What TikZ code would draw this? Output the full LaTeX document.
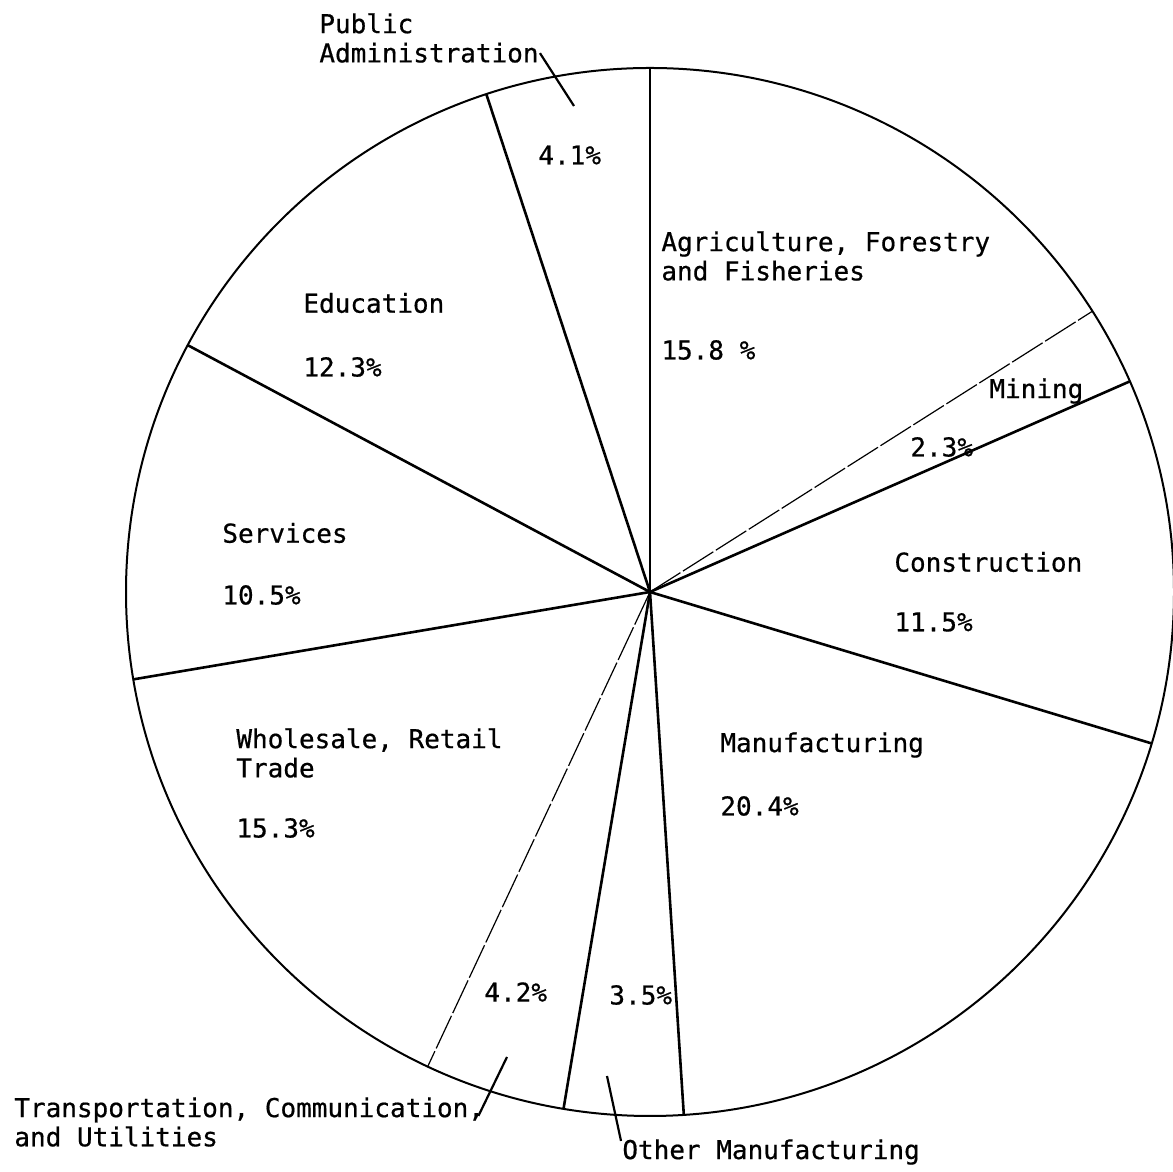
\documentclass[tikz,border=0pt]{standalone}
\usepackage{fontspec}
\usepackage{tikz}
\newfontfamily\typefont[FakeBold=0.6]{DejaVu Sans Mono}
\tikzset{>=stealth,
  lbl/.style={anchor=west,inner sep=0pt,align=left,font=\typefont\fontsize{13}{14.6}\selectfont},
  spoke/.style={line width=1.3pt},
  faint/.style={line width=0.6pt,dash pattern=on 18pt off 1.5pt},
  lead/.style={line width=1.1pt}}

\begin{document}
\begin{tikzpicture}[x=0.5pt,y=0.5pt]
\useasboundingbox (0,0) rectangle (1173,1172);
\coordinate (ctr) at (650,580);
    \draw[line width=1pt] (ctr) circle (524);
    % sector boundaries
    \foreach \a in {90,23.7,-16.8,-86.3,-99.5,189.6,151.9,108.2}
      \draw[spoke] (ctr) -- ++(\a:524);
    \foreach \a in {32.4,-115.1}
      \draw[faint] (ctr) -- ++(\a:524);
    % labels
    \node[lbl] (pubadm) at (319,1134) {Public\\Administration};
    \node[lbl] (pubpct) at (538,1017) {4.1\%};
    \node[lbl] (agri) at (661,916) {Agriculture, Forestry\\and Fisheries};
    \node[lbl] (agripct) at (661,822) {15.8 \%};
    \node[lbl] (mining) at (989,781) {Mining};
    \node[lbl] (minpct) at (910,725) {2.3\%};
    \node[lbl] (constr) at (894,610) {Construction};
    \node[lbl] (conpct) at (894,550) {11.5\%};
    \node[lbl] (manuf) at (720,427) {Manufacturing};
    \node[lbl] (manpct) at (720,366) {20.4\%};
    \node[lbl] (whole) at (236,419) {Wholesale, Retail\\Trade};
    \node[lbl] (whopct) at (236,344) {15.3\%};
    \node[lbl] (serv) at (222,639) {Services};
    \node[lbl] (serpct) at (222,577) {10.5\%};
    \node[lbl] (educ) at (303,869) {Education};
    \node[lbl] (edupct) at (303,805) {12.3\%};
    \node[lbl] (trapct) at (484,180) {4.2\%};
    \node[lbl] (othpct) at (609,177) {3.5\%};
    \node[lbl] (transp) at (14,50) {Transportation, Communication,\\and Utilities};
    \node[lbl] (other) at (622,20) {Other Manufacturing};
    % leaders
    \coordinate (pubtip) at (574,1066);
    \coordinate (tratip) at (507,115);
    \coordinate (othtip) at (607,96);
    \draw[lead] ([shift={(1,10)}]pubadm.south east) -- (pubtip);
    \draw[lead] ([shift={(-6,-19)}]transp.north east) -- (tratip);
    \draw[lead] ([shift={(-1,-2)}]other.north west) -- (othtip);
\end{tikzpicture}
\end{document}
